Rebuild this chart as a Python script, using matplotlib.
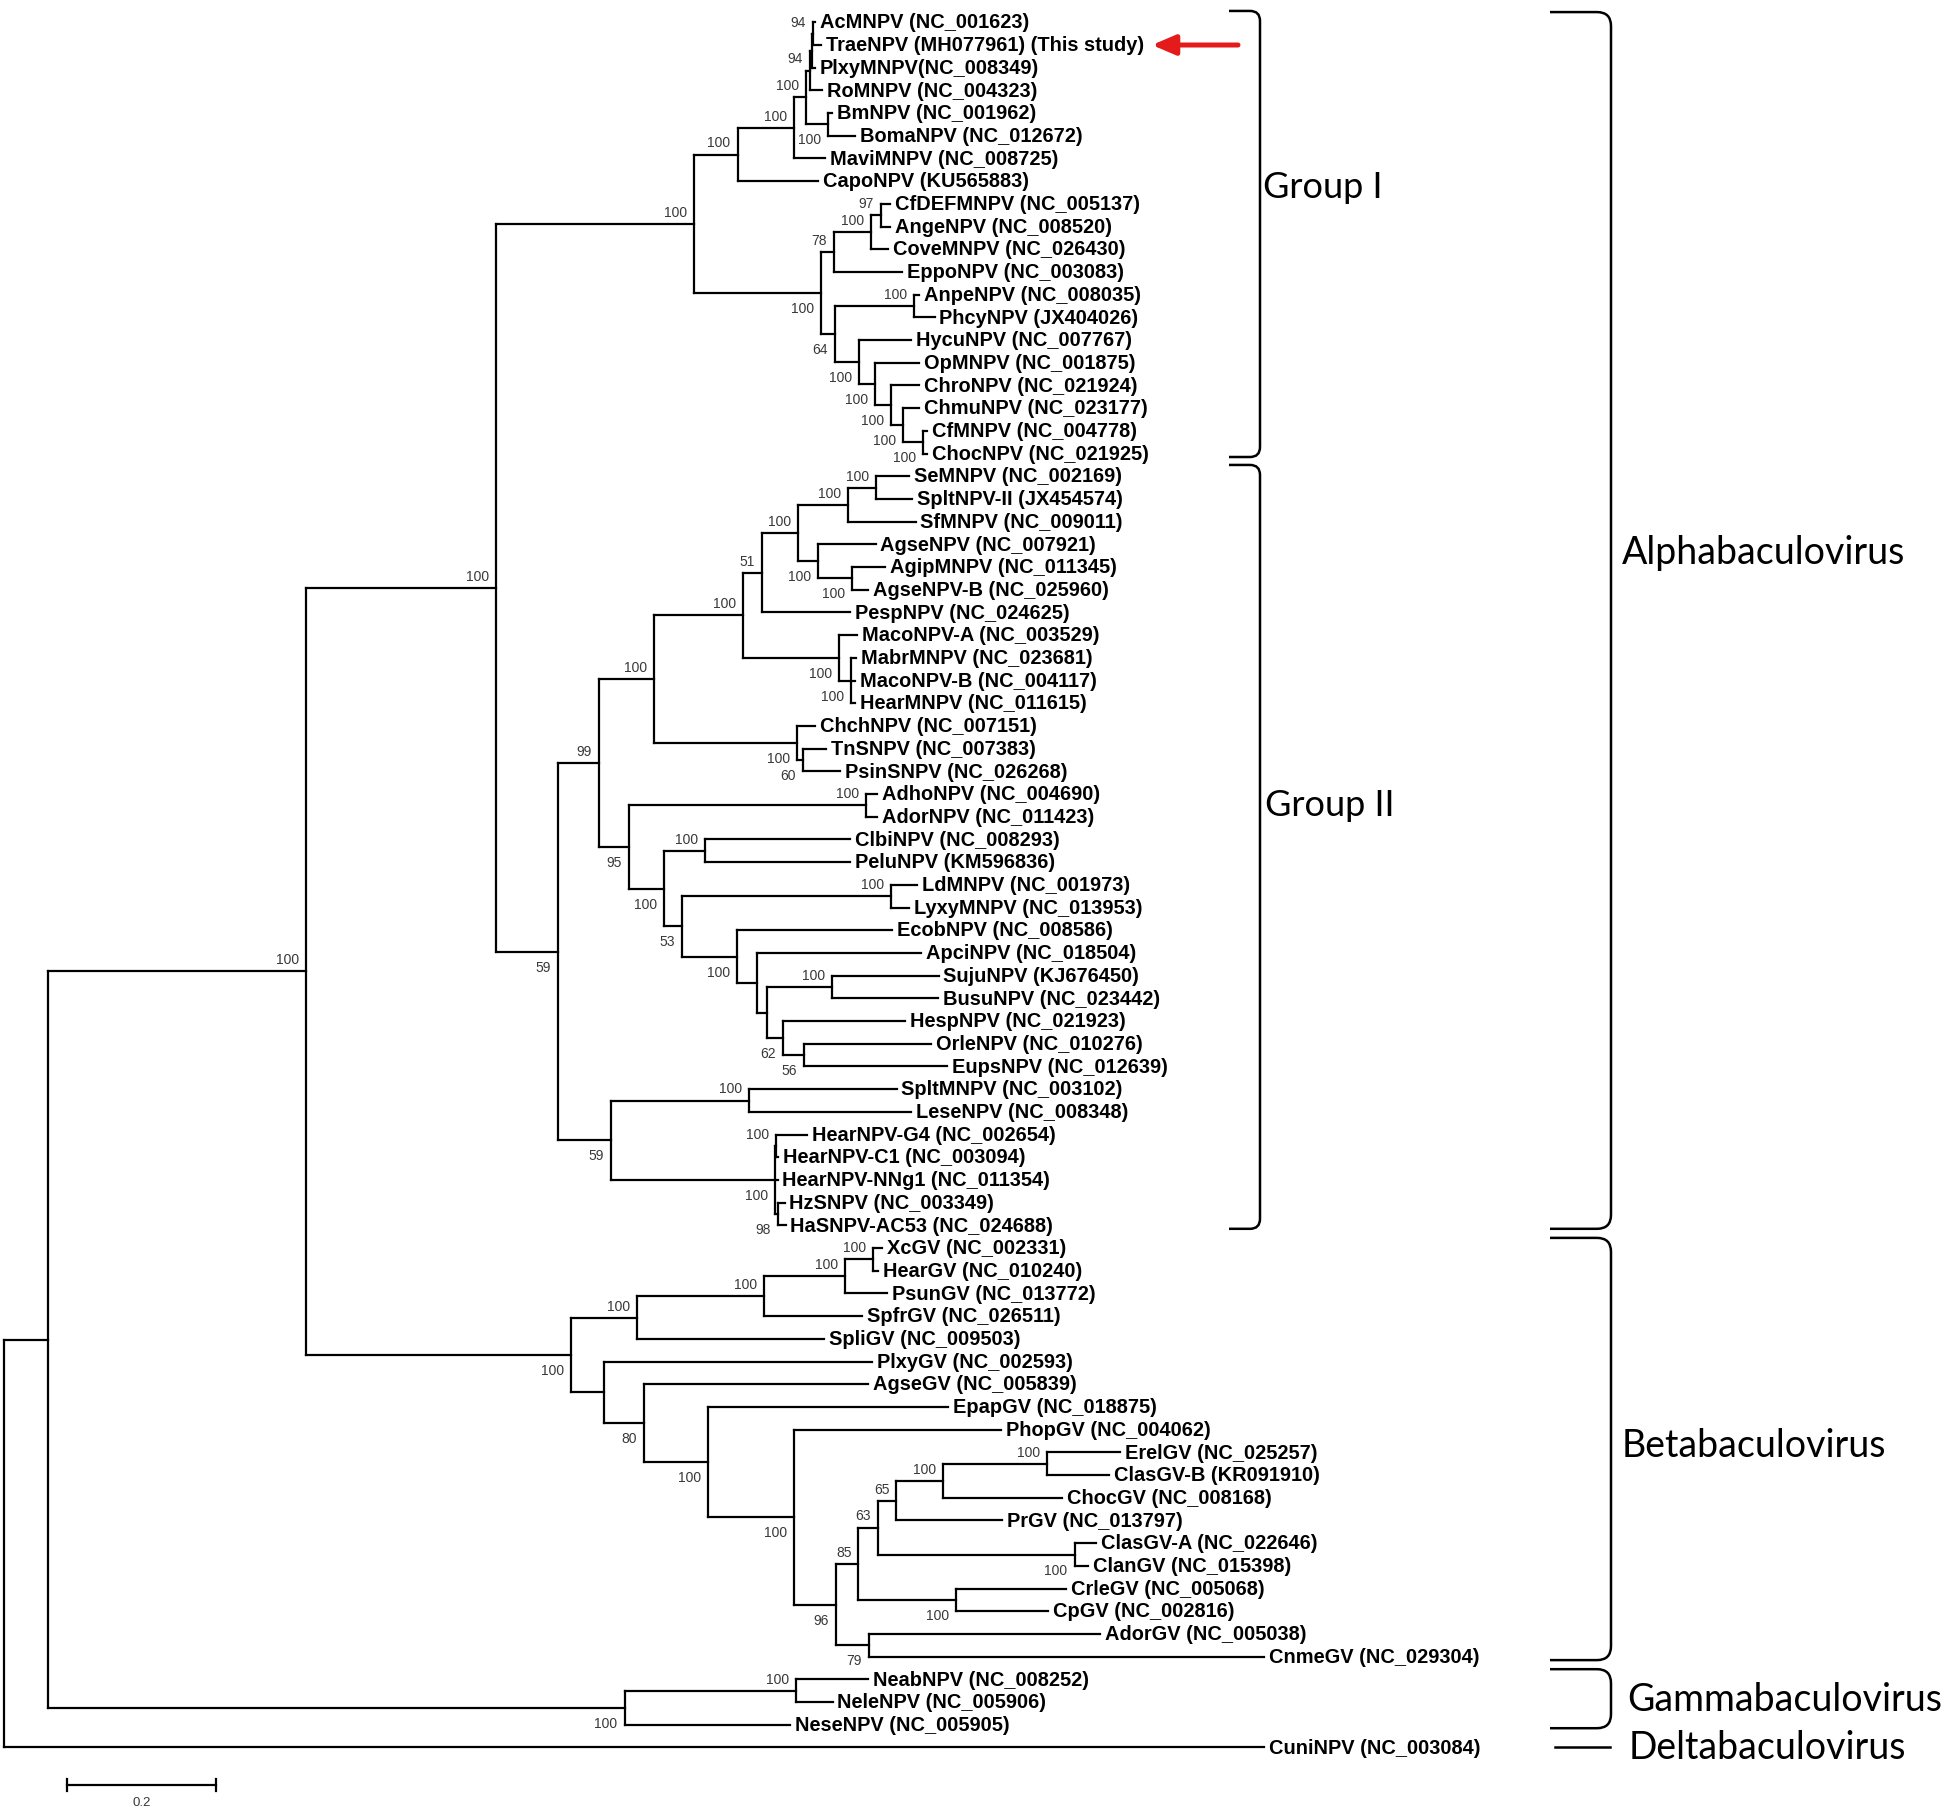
import numpy as np
import matplotlib.pyplot as plt
from matplotlib.collections import LineCollection
from matplotlib.path import Path
from matplotlib.patches import PathPatch

plt.rcParams['font.family'] = ['Liberation Sans', 'DejaVu Sans']

# ---- data: leaves top to bottom, tip depth from the root (substitutions/site)
taxa = [
    "AcMNPV (NC_001623)", "TraeNPV (MH077961) (This study)", "PlxyMNPV(NC_008349)",
    "RoMNPV (NC_004323)", "BmNPV (NC_001962)", "BomaNPV (NC_012672)",
    "MaviMNPV (NC_008725)", "CapoNPV (KU565883)", "CfDEFMNPV (NC_005137)",
    "AngeNPV (NC_008520)", "CoveMNPV (NC_026430)", "EppoNPV (NC_003083)",
    "AnpeNPV (NC_008035)", "PhcyNPV (JX404026)", "HycuNPV (NC_007767)",
    "OpMNPV (NC_001875)", "ChroNPV (NC_021924)", "ChmuNPV (NC_023177)",
    "CfMNPV (NC_004778)", "ChocNPV (NC_021925)", "SeMNPV (NC_002169)",
    "SpltNPV-II (JX454574)", "SfMNPV (NC_009011)", "AgseNPV (NC_007921)",
    "AgipMNPV (NC_011345)", "AgseNPV-B (NC_025960)", "PespNPV (NC_024625)",
    "MacoNPV-A (NC_003529)", "MabrMNPV (NC_023681)", "MacoNPV-B (NC_004117)",
    "HearMNPV (NC_011615)", "ChchNPV (NC_007151)", "TnSNPV (NC_007383)",
    "PsinSNPV (NC_026268)", "AdhoNPV (NC_004690)", "AdorNPV (NC_011423)",
    "ClbiNPV (NC_008293)", "PeluNPV (KM596836)", "LdMNPV (NC_001973)",
    "LyxyMNPV (NC_013953)", "EcobNPV (NC_008586)", "ApciNPV (NC_018504)",
    "SujuNPV (KJ676450)", "BusuNPV (NC_023442)", "HespNPV (NC_021923)",
    "OrleNPV (NC_010276)", "EupsNPV (NC_012639)", "SpltMNPV (NC_003102)",
    "LeseNPV (NC_008348)", "HearNPV-G4 (NC_002654)", "HearNPV-C1 (NC_003094)",
    "HearNPV-NNg1 (NC_011354)", "HzSNPV (NC_003349)", "HaSNPV-AC53 (NC_024688)",
    "XcGV (NC_002331)", "HearGV (NC_010240)", "PsunGV (NC_013772)",
    "SpfrGV (NC_026511)", "SpliGV (NC_009503)", "PlxyGV (NC_002593)",
    "AgseGV (NC_005839)", "EpapGV (NC_018875)", "PhopGV (NC_004062)",
    "ErelGV (NC_025257)", "ClasGV-B (KR091910)", "ChocGV (NC_008168)",
    "PrGV (NC_013797)", "ClasGV-A (NC_022646)", "ClanGV (NC_015398)",
    "CrleGV (NC_005068)", "CpGV (NC_002816)", "AdorGV (NC_005038)",
    "CnmeGV (NC_029304)", "NeabNPV (NC_008252)", "NeleNPV (NC_005906)",
    "NeseNPV (NC_005905)", "CuniNPV (NC_003084)",
]

tip_depth = [
    1.0886, 1.0966, 1.0886, 1.0980, 1.1114, 1.1423, 1.1020, 1.0926, 1.1893, 1.1893,
    1.1872, 1.2060, 1.2282, 1.2490, 1.2174, 1.2282, 1.2282, 1.2282, 1.2389, 1.2389,
    1.2154, 1.2188, 1.2235, 1.1698, 1.1826, 1.1597, 1.1356, 1.1456, 1.1436, 1.1423,
    1.1423, 1.0886, 1.1040, 1.1221, 1.1718, 1.1718, 1.1362, 1.1362, 1.2255, 1.2154,
    1.1919, 1.2315, 1.2544, 1.2537, 1.2094, 1.2443, 1.2658, 1.1980, 1.2174, 1.0785,
    1.0389, 1.0383, 1.0477, 1.0490, 1.1785, 1.1738, 1.1852, 1.1523, 1.1007, 1.1651,
    1.1604, 1.2671, 1.3389, 1.4980, 1.4832, 1.4201, 1.3396, 1.4658, 1.4557, 1.4255,
    1.4013, 1.4711, 1.6919, 1.1604, 1.1121, 1.0557, 1.6919,
]

# internal nodes: (first leaf, last leaf, node depth, bootstrap)
clades = [
    (0, 1, 1.0855, '94'), (0, 2, 1.0839, ''), (0, 3, 1.0819, '94'),
    (4, 5, 1.1060, '100'), (0, 5, 1.0765, '100'), (0, 6, 1.0604, '100'),
    (0, 7, 0.9846, '100'), (8, 9, 1.1772, '97'), (8, 10, 1.1642, '100'),
    (8, 11, 1.1137, '78'), (12, 13, 1.2215, '100'), (18, 19, 1.2332, '100'),
    (17, 19, 1.2067, '100'), (16, 19, 1.1906, '100'), (15, 19, 1.1695, '100'),
    (14, 19, 1.1483, '100'), (12, 19, 1.1154, '64'), (8, 19, 1.0962, '100'),
    (0, 19, 0.9262, '100'),
    (20, 21, 1.1705, '100'), (20, 22, 1.1329, '100'), (24, 25, 1.1383, '100'),
    (23, 25, 1.0931, '100'), (20, 25, 1.0664, '100'), (20, 26, 1.0174, '51'),
    (28, 30, 1.1369, '100'), (27, 30, 1.1205, '100'), (20, 30, 0.9925, '100'),
    (32, 33, 1.0725, '60'), (31, 33, 1.0644, '100'), (20, 33, 0.8725, '100'),
    (34, 35, 1.1570, '100'), (36, 37, 0.9405, '100'), (38, 39, 1.1909, '100'),
    (42, 43, 1.1119, '100'), (45, 46, 1.0734, '56'), (44, 46, 1.0456, '62'),
    (42, 46, 1.0240, ''), (41, 46, 1.0111, ''), (40, 46, 0.9835, '100'),
    (38, 46, 0.9097, '53'), (36, 46, 0.8854, '100'), (34, 46, 0.8384, '95'),
    (20, 46, 0.7980, '99'), (47, 48, 0.9996, '100'), (49, 50, 1.0369, '100'),
    (52, 53, 1.0383, '98'), (49, 53, 1.0349, '100'), (47, 53, 0.8148, '59'),
    (20, 53, 0.7436, '59'), (0, 53, 0.6604, '100'),
    (54, 55, 1.1664, '100'), (54, 56, 1.1289, '100'), (54, 57, 1.0204, '100'),
    (54, 58, 0.8493, '100'), (63, 64, 1.4000, '100'), (63, 65, 1.2604, '100'),
    (63, 66, 1.1979, '65'), (67, 68, 1.4370, '100'), (63, 68, 1.1732, '63'),
    (69, 70, 1.2784, '100'), (63, 70, 1.1468, '85'), (71, 72, 1.1607, '79'),
    (63, 72, 1.1165, '96'), (62, 72, 1.0604, '100'), (61, 72, 0.9455, '100'),
    (60, 72, 0.8591, '80'), (59, 72, 0.8054, ''), (54, 72, 0.7611, '100'),
    (0, 72, 0.4054, '100'),
    (73, 74, 1.0631, '100'), (73, 75, 0.8329, '100'), (0, 75, 0.0591, ''),
    (0, 76, 0.0, ''),
]

# bootstrap values printed under the branch instead of above it
labels_below = [
    (4, 5), (18, 19), (17, 19), (16, 19), (15, 19), (14, 19), (12, 19), (8, 19),
    (24, 25), (23, 25), (28, 30), (27, 30), (32, 33), (31, 33), (45, 46), (44, 46),
    (40, 46), (38, 46), (36, 46), (34, 46), (52, 53), (49, 53), (47, 53), (20, 53),
    (67, 68), (69, 70), (71, 72), (63, 72), (62, 72), (61, 72), (60, 72), (54, 72),
    (73, 75),
]

groups = ["Group I", "Group II"]
group_spans = [(0, 19), (20, 53)]
genera = ["Alphabaculovirus", "Betabaculovirus", "Gammabaculovirus"]
genus_spans = [(0, 53), (54, 72), (73, 75)]
scale_len = 0.2

# ---- canvas mapping (pixels of the 1946 x 1811 picture)
PX_UNIT, X0, ROW, Y0 = 745.0, 4.0, 22.7, 22.3
def px_x(px):
    return (px - X0) / PX_UNIT
def px_y(py):
    return (py - Y0) / ROW

fig = plt.figure(figsize=(19.46, 18.11), dpi=100)
ax = fig.add_axes([0, 0, 1, 1])
ax.set_xlim(px_x(0), px_x(1946))
ax.set_ylim(px_y(1811), px_y(0))
ax.axis('off')

# ---- tree layout
n = len(taxa)
spans = [(c[0], c[1]) for c in clades]
span_idx = {s: k for k, s in enumerate(spans)}

def kids(a, b):
    out, i = [], a
    while i <= b:
        ends = [e for (s, e) in spans if s == i and e <= b and (s, e) != (a, b)]
        if ends:
            e = max(ends)
            out.append(('n', span_idx[(i, e)]))
            i = e + 1
        else:
            out.append(('t', i))
            i += 1
    return out

node_y = {}
segs = []

def layout(k):
    a, b, d, _ = clades[k]
    ys = []
    for kind, j in kids(a, b):
        if kind == 't':
            cy, cd = j, tip_depth[j]
        else:
            cy, cd = layout(j), clades[j][2]
        segs.append([(d, cy), (cd, cy)])
        ys.append(cy)
    segs.append([(d, ys[0]), (d, ys[-1])])
    node_y[k] = (ys[0] + ys[-1]) / 2
    return node_y[k]

layout(span_idx[(0, n - 1)])
ax.add_collection(LineCollection(segs, colors='black', linewidths=1.6,
                                 capstyle='projecting'))

for i, name in enumerate(taxa):
    ax.annotate(name, (tip_depth[i], i), xytext=(3.5, -0.5), textcoords='offset points',
                ha='left', va='center', fontsize=14.4, fontweight='bold')

for k, (a, b, d, s) in enumerate(clades):
    if not s:
        continue
    dy = -11.5 if (a, b) in labels_below else 8
    ax.annotate(s, (d, node_y[k]), xytext=(-5, dy), textcoords='offset points',
                ha='right', va='center', fontsize=10, color='#383838')

# ---- brackets
def bracket(x0, x1, y_top, y_bot, r=10):
    rx, ry = r / PX_UNIT, r / ROW
    xa, xb = px_x(x0), px_x(x1)
    verts = [(xa, y_top), (xb - rx, y_top), (xb, y_top), (xb, y_top + ry),
             (xb, y_bot - ry), (xb, y_bot), (xb - rx, y_bot), (xa, y_bot)]
    codes = [Path.MOVETO, Path.LINETO, Path.CURVE3, Path.CURVE3,
             Path.LINETO, Path.CURVE3, Path.CURVE3, Path.LINETO]
    ax.add_patch(PathPatch(Path(verts, codes), fill=False, lw=1.8, ec='black'))

for (a, b) in group_spans:
    bracket(1229, 1260, a - 0.5, b + 0.15)
for (a, b) in genus_spans:
    bracket(1550, 1611, a - 0.45, b + 0.15, r=14)
ax.plot([px_x(1555), px_x(1610)], [n - 1, n - 1], color='black', lw=1.8)

group_font = dict(family='Lato', fontsize=26, ha='left', va='center')
genus_font = dict(family='Lato', fontsize=27, ha='left', va='center')
ax.text(px_x(1263), px_y(188), groups[0], **group_font)
ax.text(px_x(1265), px_y(806), groups[1], **group_font)
ax.text(px_x(1622), px_y(553), genera[0], **genus_font)
ax.text(px_x(1622), px_y(1446), genera[1], **genus_font)
ax.text(px_x(1627), px_y(1700), genera[2], **genus_font)
ax.text(px_x(1629), px_y(1748), "Deltabaculovirus", **genus_font)

# ---- red arrow to the new isolate
ax.annotate('', xy=(px_x(1152), 1), xytext=(px_x(1238), 1),
            arrowprops=dict(arrowstyle='-|>,head_length=0.7,head_width=0.3',
                            color='#e31b1b', lw=3.6, mutation_scale=20,
                            shrinkA=0, shrinkB=0))

# ---- scale bar
sx = px_x(67)
sy = px_y(1785)
ax.plot([sx, sx + scale_len], [sy, sy], color='black', lw=1.6)
ax.plot([sx, sx], [sy - 0.25, sy + 0.25], color='black', lw=1.6)
ax.plot([sx + scale_len, sx + scale_len], [sy - 0.25, sy + 0.25], color='black', lw=1.6)
ax.text(sx + scale_len / 2, px_y(1803), "0.2", ha='center', va='center',
        fontsize=9.5, color='#383838')

fig.savefig("out.png", dpi=100, facecolor='white')
